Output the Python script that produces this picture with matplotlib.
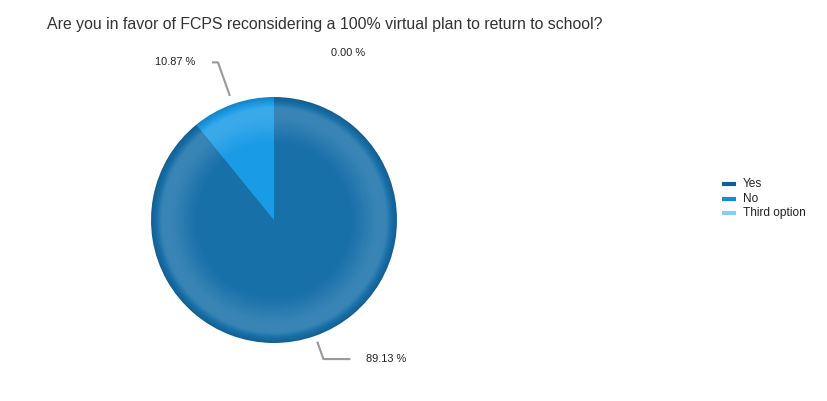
import numpy as np
import matplotlib.pyplot as plt
import matplotlib.colors as mcolors

plt.rcParams['font.family'] = ['Liberation Sans', 'DejaVu Sans']

title = "Are you in favor of FCPS reconsidering a 100% virtual plan to return to school?"
categories = ["Yes", "No", "Third option"]
percents = [89.13, 10.87, 0.00]
slice_colors = ["#1870a9", "#1a9be6", "#86cdf1"]
legend_colors = ["#0d6096", "#0a8fe0", "#86cdf1"]

W, H = 827, 401
fig = plt.figure(figsize=(W / 100, H / 100), dpi=100)
ax = fig.add_axes([0, 0, 1, 1])

cx, cy, R = 274, H - 220, 123


def shade(col, frac):
    # glossy look: lighter ring near the rim, dark thin edge
    rgb = np.array(mcolors.to_rgb(col))
    if frac < 0.6:
        amt = 0.0
    elif frac < 0.87:
        t = (frac - 0.6) / 0.27
        amt = 0.14 * (3 * t ** 2 - 2 * t ** 3)
    elif frac < 0.92:
        amt = 0.14
    else:
        t = (frac - 0.92) / 0.08
        amt = 0.14 * (1 - t) - 0.14 * t
    if amt >= 0:
        rgb = rgb + (1 - rgb) * amt
    else:
        rgb = rgb * (1 + amt)
    return tuple(np.clip(rgb, 0, 1))


n = 80
for k in range(n):
    frac = 1 - k / n
    ax.pie(percents, radius=R * frac, center=(cx, cy), startangle=90,
           counterclock=False,
           colors=[shade(c, frac) for c in slice_colors],
           wedgeprops=dict(linewidth=0))

# labels with leader lines
# (r1, r2, dx, line)
label_style = [(1.05, 1.2, 27, True), (1.07, 1.36, -6, True), (None, 1.36, 57, False)]
cum = 0
for p, (r1, r2, dx, line) in zip(percents, label_style):
    mid = np.deg2rad(90 - 360 * (cum + p / 2) / 100)
    cum += p
    ex, ey = cx + R * r2 * np.cos(mid), cy + R * r2 * np.sin(mid)
    if line:
        sx, sy = cx + R * r1 * np.cos(mid), cy + R * r1 * np.sin(mid)
        ax.plot([sx, ex, ex + dx], [sy, ey, ey], color="#999999", lw=1.5,
                solid_capstyle="butt")
        gap = 16 if dx > 0 else -17
        tx = ex + dx + gap
        ha = "left" if dx > 0 else "right"
    else:
        tx = ex + dx
        ha = "left"
    ax.text(tx, ey, "%.2f %%" % p, ha=ha, va="center", fontsize=7.9,
            color="#222222")

# legend
for i, (name, col) in enumerate(zip(categories, legend_colors)):
    y = H - 184 - i * 14.5
    ax.plot([722, 736], [y, y], color=col, lw=3, solid_capstyle="butt")
    ax.text(743, y, name, ha="left", va="center", fontsize=8.6, color="#222222")

ax.text(47, H - 24, title, ha="left", va="center", fontsize=11.4, color="#333333")

ax.set_xlim(0, W)
ax.set_ylim(0, H)
ax.set_aspect("equal")
ax.axis("off")

fig.savefig("out.png", dpi=100)
